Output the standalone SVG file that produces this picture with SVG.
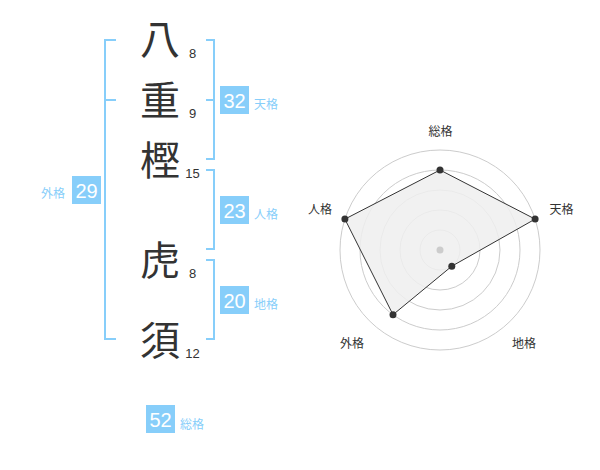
<svg xmlns="http://www.w3.org/2000/svg" width="600" height="470" viewBox="0 0 600 470">
<style>
.kanji{font-family:"Noto Sans CJK JP","Noto Sans CJK SC",sans-serif;font-size:40px;fill:#333;text-anchor:middle}
.num{font-family:"Liberation Sans",Arial,sans-serif;font-size:13px;fill:#333;text-anchor:middle}
.box{fill:#87cefa}
.boxnum{font-family:"Liberation Sans",Arial,sans-serif;font-size:20px;fill:#fff;text-anchor:middle}
.lbl{font-family:"Noto Sans CJK JP","Noto Sans CJK SC",sans-serif;font-size:12px;fill:#87cefa}
.br{fill:none;stroke:#87cefa;stroke-width:2}
.ring{fill:none;stroke:#ccc;stroke-width:1}
.rlbl{font-family:"Noto Sans CJK JP","Noto Sans CJK SC",sans-serif;font-size:12px;fill:#333;text-anchor:middle}
.dot{fill:#333}
</style>
<rect width="600" height="470" fill="#fff"/>
<g id="connectors">
  <path class="br" d="M116,40 H105 V339 H116 M105,100 H116"/>
  <path class="br" d="M206,40 H214 V159 H206 M214,100 H206"/>
  <path class="br" d="M206,170 H214 V249 H206"/>
  <path class="br" d="M206,260 H214 V339 H206"/>
</g>
<g id="char-1"><text class="kanji" x="160" y="54">八</text><text class="num" x="192.5" y="57.5">8</text></g>
<g id="char-2"><text class="kanji" x="160" y="115">重</text><text class="num" x="192.5" y="117.5">9</text></g>
<g id="char-3"><text class="kanji" x="160" y="175">樫</text><text class="num" x="192.5" y="177.5">15</text></g>
<g id="char-4"><text class="kanji" x="160" y="275">虎</text><text class="num" x="192.5" y="277.5">8</text></g>
<g id="char-5"><text class="kanji" x="160" y="355">須</text><text class="num" x="192.5" y="357.5">12</text></g>
<g id="tenkaku"><rect class="box" x="220" y="86" width="29" height="28"/><text class="boxnum" x="234.5" y="108">32</text><text class="lbl" x="254" y="108.5">天格</text></g>
<g id="jinkaku"><rect class="box" x="220" y="196" width="29" height="28"/><text class="boxnum" x="234.5" y="218">23</text><text class="lbl" x="254" y="218.5">人格</text></g>
<g id="chikaku"><rect class="box" x="220" y="286" width="29" height="28"/><text class="boxnum" x="234.5" y="308">20</text><text class="lbl" x="254" y="308.5">地格</text></g>
<g id="gaikaku"><rect class="box" x="72" y="176" width="29" height="28"/><text class="boxnum" x="86.5" y="198">29</text><text class="lbl" x="65" y="198" text-anchor="end">外格</text></g>
<g id="soukaku"><rect class="box" x="146" y="405" width="29" height="28"/><text class="boxnum" x="160.5" y="427">52</text><text class="lbl" x="180" y="428.5">総格</text></g>
<g id="radar">
  <circle class="ring" cx="440" cy="250" r="20"/>
  <circle class="ring" cx="440" cy="250" r="40"/>
  <circle class="ring" cx="440" cy="250" r="60"/>
  <circle class="ring" cx="440" cy="250" r="80"/>
  <circle class="ring" cx="440" cy="250" r="100"/>
  <polygon points="440,170 535.1,219.1 451.8,266.2 393,314.7 344.9,219.1" fill="#efefef" fill-opacity="0.85" stroke="#333" stroke-width="1"/>
  <circle cx="440" cy="250" r="3.5" fill="#ccc"/>
  <circle class="dot" cx="440" cy="170" r="3.5"/>
  <circle class="dot" cx="535.1" cy="219.1" r="3.5"/>
  <circle class="dot" cx="451.8" cy="266.2" r="3.5"/>
  <circle class="dot" cx="393" cy="314.7" r="3.5"/>
  <circle class="dot" cx="344.9" cy="219.1" r="3.5"/>
  <text class="rlbl" x="440.5" y="135.5">総格</text>
  <text class="rlbl" x="561.5" y="213.5">天格</text>
  <text class="rlbl" x="524" y="347.5">地格</text>
  <text class="rlbl" x="352" y="347.5">外格</text>
  <text class="rlbl" x="320" y="213.5">人格</text>
</g>
</svg>
